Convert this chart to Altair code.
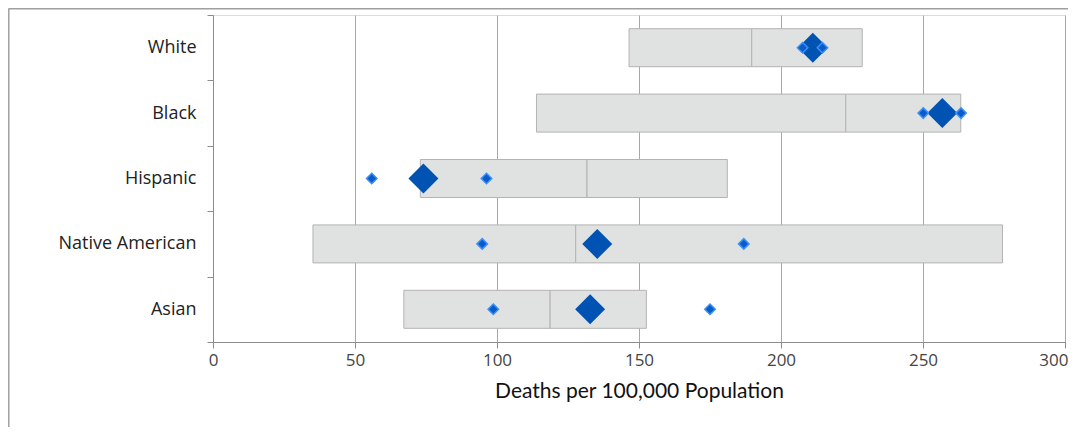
import altair as alt
import pandas as pd

groups = ["White", "Black", "Hispanic", "Native American", "Asian"]
low = [146.5, 113.9, 73.0, 35.2, 67.2]
median = [189.7, 222.8, 131.7, 127.7, 118.7]
high = [228.6, 263.3, 181.1, 278.0, 152.6]
center = [211.2, 256.8, 74.1, 135.3, 132.8]
small_a = [207.6, 250.1, 55.9, 94.8, 98.7]
small_b = [214.6, 263.4, 96.3, 186.9, 175.0]
x_ticks = [0, 50, 100, 150, 200, 250, 300]

boxes = pd.DataFrame({
    "group": groups * 2,
    "start": low + median,
    "end": median + high,
})
big = pd.DataFrame({"group": groups, "value": center})
small = pd.DataFrame({"group": groups * 2, "value": small_a + small_b})

W, H = 852, 327

yenc = alt.Y("group:N", sort=groups, title=None,
             scale=alt.Scale(paddingInner=0, paddingOuter=0),
             axis=alt.Axis(tickBand="extent", labelFontSize=18, labelColor="#222222",
                           labelFont="Open Sans", labelPadding=11, tickSize=6,
                           tickColor="#8c8c8c", domainColor="#8c8c8c", grid=False))
xscale = alt.Scale(domain=[0, 300], nice=False)
xaxis = alt.Axis(values=x_ticks, grid=True, gridColor="#a8a8a8", gridWidth=1,
                 domainColor="#8c8c8c", tickColor="#8c8c8c", tickSize=6,
                 labelFontSize=17, labelColor="#444444", labelFont="Open Sans",
                 labelPadding=4, labelFlush=False, labelOverlap=False,
                 labelAlign=alt.ExprRef(expr="datum.value == 300 ? 'right' : 'center'"),
                 labelOffset=alt.ExprRef(expr="datum.value == 300 ? 3 : 0"),
                 title="Deaths per 100,000 Population",
                 titleFont="Lato", titleFontSize=21, titleFontWeight="normal",
                 titleColor="#111111", titlePadding=12)

bars = alt.Chart(boxes).mark_bar(size=38, color="#e0e1e1", stroke="#b3b3b3",
                                 strokeWidth=1).encode(
    x=alt.X("start:Q", scale=xscale, axis=xaxis),
    x2="end:Q",
    y=yenc,
)

bigpts = alt.Chart(big).mark_point(shape="diamond", size=900, filled=True,
                                   color="#0053b3", opacity=1).encode(
    x=alt.X("value:Q", scale=xscale),
    y=alt.Y("group:N", sort=groups),
)

smallpts = alt.Chart(small).mark_point(shape="diamond", size=110, filled=True,
                                       fill="#0a5ccc", stroke="#3d90f5",
                                       strokeWidth=1.5, opacity=1).encode(
    x=alt.X("value:Q", scale=xscale),
    y=alt.Y("group:N", sort=groups),
)

frame_df = pd.DataFrame({"k": ["top"]})
top_line = alt.Chart(frame_df).mark_rule(color="#a0a0a0", strokeWidth=1.5).encode(
    x=alt.value(-204.5), x2=alt.value(880), y=alt.value(-6.2))
left_line = alt.Chart(frame_df).mark_rule(color="#a0a0a0", strokeWidth=1.5).encode(
    x=alt.value(-204.2), y=alt.value(-6.5), y2=alt.value(430))

chart = alt.layer(bars, bigpts, smallpts, top_line, left_line).properties(
    width=W, height=H,
    autosize=alt.AutoSizeParams(type="none"),
    padding={"left": 205, "top": 7, "right": 3, "bottom": 85},
).configure_view(stroke=None).configure(background="white")

chart.save("out.html", embed_options={"renderer": "svg", "actions": False})
